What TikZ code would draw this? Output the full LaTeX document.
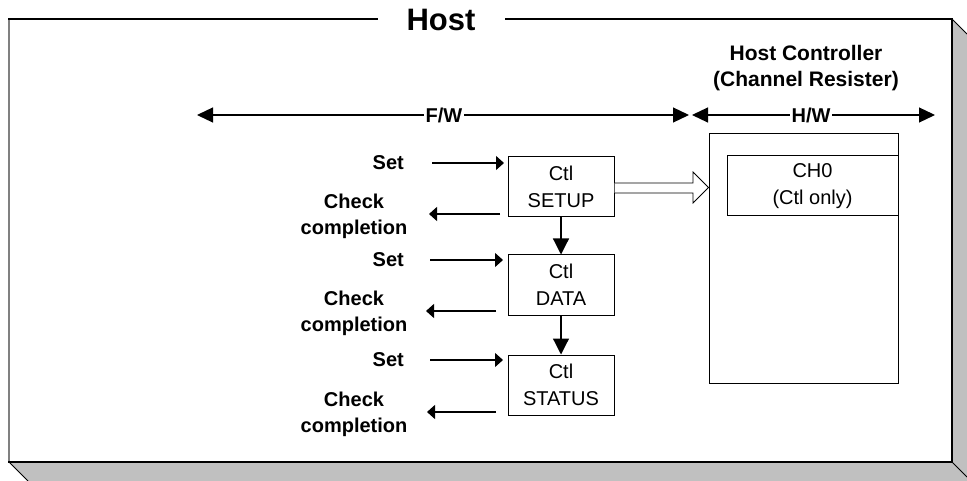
\documentclass[tikz,border=0pt]{standalone}
\usepackage{fontspec}
\setmainfont{Liberation Sans}
\usetikzlibrary{arrows.meta}

\begin{document}
\begin{tikzpicture}[x=1pt,y=-1pt,
  thin line/.style={line width=1.2pt},
  small tip/.style={thin line,-{Triangle[length=8pt,width=14pt]}},
  big tip/.style={thin line,-{Triangle[length=16pt,width=16pt]}},
  both big/.style={thin line,{Triangle[length=16pt,width=15pt]}-{Triangle[length=16pt,width=15pt]}},
  regbox/.style={draw,line width=1pt,fill=white,minimum width=106pt,minimum height=60pt,
    align=center,inner sep=0pt,font=\fontsize{20}{27}\selectfont},
  lbl/.style={align=center,inner sep=0pt,font=\bfseries\fontsize{20}{26}\selectfont},
  gap lbl/.style={fill=white,inner xsep=1.5pt,inner ysep=0pt,font=\bfseries\fontsize{20}{24}\selectfont},
  shade/.style={fill={rgb,255:red,192;green,192;blue,192}}
]
\useasboundingbox (0,0) rectangle (967,481);

% 3D extrusion of the host frame
\begin{scope}
\clip (0,0) rectangle (967,481);
\fill[shade] (9,462) -- (28,481) -- (967,481) -- (967,34) -- (952,19) -- (952,462) -- cycle;
\draw[line width=1pt] (9,462) -- (28,481);
\draw[line width=1pt] (952,19) -- (967,34);
\draw[line width=1pt] (952,462) -- (967,477);
\end{scope}

% host frame
\draw[line width=1.3pt,fill=white] (9,19) rectangle (952,462);
\draw[line width=1.6pt,gray] (9,20) -- (9,461);
\node[fill=white,minimum width=127pt,minimum height=30pt,inner sep=0pt,
      font=\bfseries\fontsize{31}{31}\selectfont] (host) at (441,20) {Host};

% host controller heading
\node[lbl,font=\bfseries\fontsize{21}{26}\selectfont] (hctitle) at (806,68.5)
  {Host Controller\\(Channel Resister)};

% F/W and H/W spans
\coordinate (fwL) at (197,115);
\coordinate (fwR) at (689,115);
\coordinate (hwL) at (692,115);
\coordinate (hwR) at (935,115);
\draw[both big] (fwL) -- (fwR);
\draw[both big] (hwL) -- (hwR);
\node[gap lbl] (fw) at (444,115) {F/W};
\node[gap lbl] (hw) at (811,115) {H/W};

% host controller register block
\node[draw,line width=1pt,minimum width=189pt,minimum height=249pt,inner sep=0pt]
  (hc) at (803.5,258.5) {};
\node[regbox,minimum width=171pt] (ch0) at (812.5,186) {CH0\\(Ctl only)};

% control transfer stages
\node[regbox] (setup)  at (561,187) {Ctl\\SETUP};
\node[regbox] (data)   at (561,285) {Ctl\\DATA};
\node[regbox] (status) at (561,385) {Ctl\\STATUS};

\draw[big tip] (setup.south) -- (data.north);
\draw[big tip] (data.south) -- (status.north);

% hollow arrow from SETUP into the channel register
\draw[line width=0.8pt,fill=white] (setup.east |- 0,183) -- (693,183) -- (693,172) -- (hc.west |- 0,187.5)
  -- (693,203) -- (693,193) -- (setup.east |- 0,193);

% firmware actions
\node[lbl,anchor=east] (set1) at (404,163) {Set};
\node[lbl,anchor=east] (set2) at (404,260) {Set};
\node[lbl,anchor=east] (set3) at (404,360) {Set};
\node[lbl] (chk1) at (354,216) {Check\\completion};
\node[lbl] (chk2) at (354,313.5) {Check\\completion};
\node[lbl] (chk3) at (354,414) {Check\\completion};

\coordinate (s1a) at (432,163); \coordinate (s1b) at (504,163);
\coordinate (s2a) at (430,260); \coordinate (s2b) at (503,260);
\coordinate (s3a) at (430,360); \coordinate (s3b) at (503,360);
\coordinate (c1a) at (500,214); \coordinate (c1b) at (429,214);
\coordinate (c2a) at (496,311); \coordinate (c2b) at (426,311);
\coordinate (c3a) at (496,412); \coordinate (c3b) at (427,412);

\draw[small tip] (s1a) -- (s1b);
\draw[small tip] (s2a) -- (s2b);
\draw[small tip] (s3a) -- (s3b);
\draw[small tip] (c1a) -- (c1b);
\draw[small tip] (c2a) -- (c2b);
\draw[small tip] (c3a) -- (c3b);
\end{tikzpicture}
\end{document}
